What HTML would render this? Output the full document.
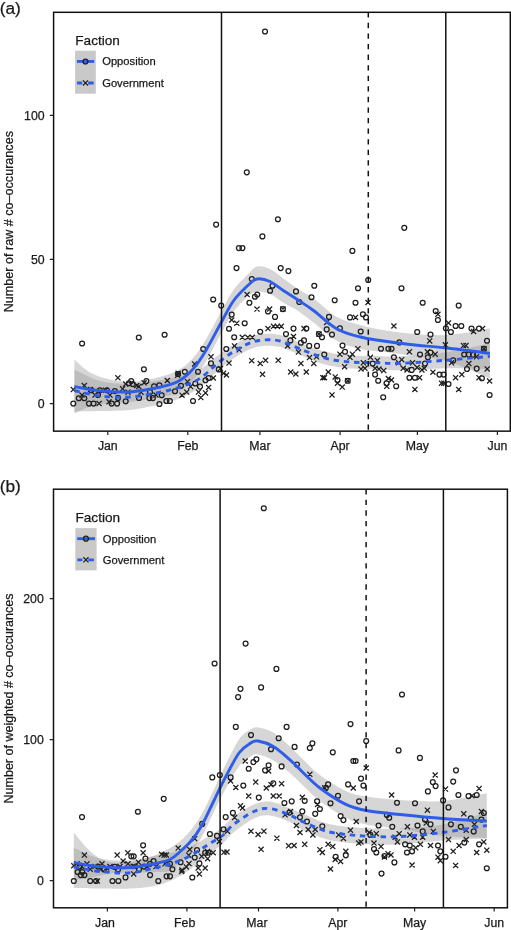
<!DOCTYPE html>
<html><head><meta charset="utf-8"><style>
html,body{margin:0;padding:0;background:#fff;width:511px;height:930px;overflow:hidden}
svg{display:block;will-change:transform}
text{font-family:"Liberation Sans", sans-serif;fill:#1a1a1a;stroke:#1a1a1a;stroke-width:0.25px}
</style></head><body>
<svg width="511" height="930" viewBox="0 0 511 930">
<rect width="511" height="930" fill="#fff"/>
<clipPath id="clipa"><rect x="53.6" y="12.3" width="456.7" height="418.85"/></clipPath>
<g clip-path="url(#clipa)">
<path d="M74.4,359.5 C77,361.67 84.07,369.17 90,372.5 C95.93,375.83 103.33,377.92 110,379.5 C116.67,381.08 122.75,382.17 130,382 C137.25,381.83 145.67,380.33 153.5,378.5 C161.33,376.67 170.48,374.33 177,371 C183.52,367.67 187.93,363.5 192.6,358.5 C197.27,353.5 200.23,348.83 205,341 C209.77,333.17 216.47,320 221.2,311.5 C225.93,303 229.02,296.12 233.4,290 C237.78,283.88 243.57,278.72 247.5,274.8 C251.43,270.88 253.25,267.47 257,266.5 C260.75,265.53 265.5,266.92 270,269 C274.5,271.08 279.33,275.67 284,279 C288.67,282.33 293.08,285.75 298,289 C302.92,292.25 307,293.83 313.5,298.5 C320,303.17 329.17,312.58 337,317 C344.83,321.42 353.33,322.92 360.5,325 C367.67,327.08 371.75,328.08 380,329.5 C388.25,330.92 398.93,332.58 410,333.5 C421.07,334.42 433.08,335.85 446.4,335 C459.72,334.15 482.65,329.5 489.9,328.4 L489.9,378.4 C482.65,375.5 459.72,364.82 446.4,361 C433.08,357.18 421.07,357.08 410,355.5 C398.93,353.92 388.25,352.58 380,351.5 C371.75,350.42 367.67,350.75 360.5,349 C353.33,347.25 344.83,345.42 337,341 C329.17,336.58 320,327.5 313.5,322.5 C307,317.5 302.92,314.25 298,311 C293.08,307.75 288.67,305.83 284,303 C279.33,300.17 274.5,295.92 270,294 C265.5,292.08 260.75,291.03 257,291.5 C253.25,291.97 251.43,293.38 247.5,296.8 C243.57,300.22 237.78,305.88 233.4,312 C229.02,318.12 225.93,325 221.2,333.5 C216.47,342 209.77,355.17 205,363 C200.23,370.83 197.27,375.5 192.6,380.5 C187.93,385.5 183.52,390 177,393 C170.48,396 161.33,397 153.5,398.5 C145.67,400 137.25,401.17 130,402 C122.75,402.83 116.67,402.75 110,403.5 C103.33,404.25 95.93,404.83 90,406.5 C84.07,408.17 77,412.33 74.4,413.5 Z" fill="#999" fill-opacity="0.4" stroke="none"/>
<path d="M74.4,369.5 C78.67,371.42 90.73,378.58 100,381 C109.27,383.42 119.78,384.17 130,384 C140.22,383.83 152.68,381.42 161.3,380 C169.92,378.58 175.18,377.33 181.7,375.5 C188.22,373.67 193.73,372.83 200.4,369 C207.07,365.17 215.02,357.17 221.7,352.5 C228.38,347.83 234.28,344 240.5,341 C246.72,338 252.42,335.5 259,334.5 C265.58,333.5 272.58,333.35 280,335 C287.42,336.65 295.67,341.55 303.5,344.4 C311.33,347.25 319.17,350.25 327,352.1 C334.83,353.95 342.67,354.83 350.5,355.5 C358.33,356.17 365.75,355.97 374,356.1 C382.25,356.23 387.93,356.95 400,356.3 C412.07,355.65 431.42,354.37 446.4,352.2 C461.38,350.03 482.65,344.78 489.9,343.3 L489.9,369.3 C482.65,369.12 461.38,368.03 446.4,368.2 C431.42,368.37 412.07,370.15 400,370.3 C387.93,370.45 382.25,369.4 374,369.1 C365.75,368.8 358.33,369.17 350.5,368.5 C342.67,367.83 334.83,367.12 327,365.1 C319.17,363.08 311.33,359.42 303.5,356.4 C295.67,353.38 287.42,348.65 280,347 C272.58,345.35 265.58,345.33 259,346.5 C252.42,347.67 246.72,350.5 240.5,354 C234.28,357.5 228.38,362 221.7,367.5 C215.02,373 207.07,382 200.4,387 C193.73,392 188.22,394.67 181.7,397.5 C175.18,400.33 169.92,401.92 161.3,404 C152.68,406.08 140.22,408.83 130,410 C119.78,411.17 109.27,410.75 100,411 C90.73,411.25 78.67,411.42 74.4,411.5 Z" fill="#999" fill-opacity="0.4" stroke="none"/>
<g fill="none" stroke="#1f1f1f" stroke-width="1.25"><circle cx="265" cy="31.5" r="2.45"/><circle cx="246.8" cy="172.3" r="2.45"/><circle cx="216.1" cy="224.6" r="2.45"/><circle cx="277.9" cy="219.2" r="2.45"/><circle cx="262.4" cy="236.4" r="2.45"/><circle cx="238.9" cy="248.1" r="2.45"/><circle cx="242.4" cy="248.1" r="2.45"/><circle cx="236.5" cy="268.1" r="2.45"/><circle cx="280.7" cy="268.1" r="2.45"/><circle cx="288.4" cy="271.1" r="2.45"/><circle cx="251.8" cy="279.1" r="2.45"/><circle cx="272.5" cy="285.7" r="2.45"/><circle cx="270.1" cy="290.8" r="2.45"/><circle cx="257.2" cy="294.6" r="2.45"/><circle cx="254.9" cy="296.7" r="2.45"/><circle cx="213.2" cy="299.5" r="2.45"/><circle cx="221.2" cy="305.6" r="2.45"/><circle cx="231.7" cy="314.6" r="2.45"/><circle cx="249.4" cy="302.8" r="2.45"/><circle cx="244.7" cy="323.2" r="2.45"/><circle cx="229" cy="328.7" r="2.45"/><circle cx="234.2" cy="337.3" r="2.45"/><circle cx="226.3" cy="349" r="2.45"/><circle cx="203.2" cy="349" r="2.45"/><circle cx="211" cy="363.4" r="2.45"/><circle cx="218.8" cy="369.4" r="2.45"/><circle cx="198" cy="371.7" r="2.45"/><circle cx="184.8" cy="371.7" r="2.45"/><circle cx="195.3" cy="383.5" r="2.45"/><circle cx="200" cy="386.6" r="2.45"/><circle cx="205.5" cy="380.3" r="2.45"/><circle cx="208.6" cy="378" r="2.45"/><circle cx="193" cy="401" r="2.45"/><circle cx="175" cy="391.3" r="2.45"/><circle cx="178.1" cy="374" r="2.45"/><circle cx="82.1" cy="343.5" r="2.45"/><circle cx="138.8" cy="337.5" r="2.45"/><circle cx="164.6" cy="334.7" r="2.45"/><circle cx="143.9" cy="369.3" r="2.45"/><circle cx="73.3" cy="403.6" r="2.45"/><circle cx="89" cy="403.6" r="2.45"/><circle cx="93.6" cy="403.6" r="2.45"/><circle cx="111.6" cy="403.6" r="2.45"/><circle cx="117.1" cy="403.6" r="2.45"/><circle cx="125.7" cy="401.3" r="2.45"/><circle cx="91.3" cy="390.3" r="2.45"/><circle cx="99.9" cy="390.3" r="2.45"/><circle cx="106.9" cy="390.3" r="2.45"/><circle cx="114.8" cy="391.1" r="2.45"/><circle cx="78.8" cy="398.2" r="2.45"/><circle cx="84.3" cy="398.2" r="2.45"/><circle cx="131.2" cy="381" r="2.45"/><circle cx="128.9" cy="383.3" r="2.45"/><circle cx="132.8" cy="384.1" r="2.45"/><circle cx="146.4" cy="381.1" r="2.45"/><circle cx="154.1" cy="386.4" r="2.45"/><circle cx="159.4" cy="385.2" r="2.45"/><circle cx="161.7" cy="395.2" r="2.45"/><circle cx="166.4" cy="401" r="2.45"/><circle cx="169.9" cy="401" r="2.45"/><circle cx="159.4" cy="404" r="2.45"/><circle cx="149.4" cy="398.1" r="2.45"/><circle cx="152.9" cy="398.1" r="2.45"/><circle cx="181" cy="385.8" r="2.45"/><circle cx="311.5" cy="297.3" r="2.45"/><circle cx="299.3" cy="302" r="2.45"/><circle cx="268" cy="311.4" r="2.45"/><circle cx="275" cy="316.9" r="2.45"/><circle cx="329" cy="316.9" r="2.45"/><circle cx="260.2" cy="331.8" r="2.45"/><circle cx="293.5" cy="328.6" r="2.45"/><circle cx="306.3" cy="328.6" r="2.45"/><circle cx="286" cy="334.1" r="2.45"/><circle cx="304" cy="340.4" r="2.45"/><circle cx="300.9" cy="342.7" r="2.45"/><circle cx="309.2" cy="345.9" r="2.45"/><circle cx="317" cy="345.9" r="2.45"/><circle cx="322" cy="337.3" r="2.45"/><circle cx="324.3" cy="354.5" r="2.45"/><circle cx="326.7" cy="329.4" r="2.45"/><circle cx="290.4" cy="340.4" r="2.45"/><circle cx="282.9" cy="309.1" r="2.45"/><circle cx="318.9" cy="334.1" r="2.45"/><circle cx="334.7" cy="300.2" r="2.45"/><circle cx="355.5" cy="302.8" r="2.45"/><circle cx="350" cy="317.4" r="2.45"/><circle cx="362.9" cy="314.3" r="2.45"/><circle cx="366" cy="317.4" r="2.45"/><circle cx="339.9" cy="328.3" r="2.45"/><circle cx="332" cy="334.6" r="2.45"/><circle cx="360.7" cy="331.5" r="2.45"/><circle cx="399.3" cy="342.4" r="2.45"/><circle cx="342.5" cy="345.6" r="2.45"/><circle cx="345" cy="351.8" r="2.45"/><circle cx="381" cy="348.7" r="2.45"/><circle cx="388.4" cy="348.7" r="2.45"/><circle cx="391.5" cy="348.7" r="2.45"/><circle cx="393.9" cy="357.3" r="2.45"/><circle cx="337.5" cy="380" r="2.45"/><circle cx="375.1" cy="374.6" r="2.45"/><circle cx="378.2" cy="380.8" r="2.45"/><circle cx="386.5" cy="383.2" r="2.45"/><circle cx="396.2" cy="386.3" r="2.45"/><circle cx="383.2" cy="397.3" r="2.45"/><circle cx="372.7" cy="363.6" r="2.45"/><circle cx="347.7" cy="380.8" r="2.45"/><circle cx="352.4" cy="250.9" r="2.45"/><circle cx="368.2" cy="280" r="2.45"/><circle cx="314.3" cy="285.8" r="2.45"/><circle cx="296" cy="291.4" r="2.45"/><circle cx="358" cy="288.3" r="2.45"/><circle cx="401.5" cy="288.3" r="2.45"/><circle cx="404.3" cy="227.8" r="2.45"/><circle cx="422.7" cy="302.8" r="2.45"/><circle cx="458.7" cy="305.6" r="2.45"/><circle cx="435.7" cy="311.1" r="2.45"/><circle cx="437.9" cy="320" r="2.45"/><circle cx="417.2" cy="332" r="2.45"/><circle cx="430.5" cy="334.6" r="2.45"/><circle cx="445.9" cy="328.3" r="2.45"/><circle cx="450.9" cy="332" r="2.45"/><circle cx="455.6" cy="326" r="2.45"/><circle cx="461.3" cy="326" r="2.45"/><circle cx="471.5" cy="328.6" r="2.45"/><circle cx="479" cy="328.6" r="2.45"/><circle cx="420" cy="354.5" r="2.45"/><circle cx="427.9" cy="357.3" r="2.45"/><circle cx="430.5" cy="352.6" r="2.45"/><circle cx="425" cy="363.6" r="2.45"/><circle cx="453.2" cy="360.4" r="2.45"/><circle cx="464.2" cy="354.5" r="2.45"/><circle cx="468.7" cy="354.6" r="2.45"/><circle cx="473.1" cy="354.8" r="2.45"/><circle cx="476.7" cy="368.6" r="2.45"/><circle cx="467" cy="369" r="2.45"/><circle cx="411.7" cy="369.9" r="2.45"/><circle cx="409.4" cy="377.7" r="2.45"/><circle cx="414.9" cy="377.7" r="2.45"/><circle cx="439.5" cy="374.6" r="2.45"/><circle cx="443.5" cy="374.6" r="2.45"/><circle cx="448.5" cy="384" r="2.45"/><circle cx="487" cy="340.7" r="2.45"/><circle cx="483.9" cy="348.7" r="2.45"/><circle cx="481.9" cy="378.3" r="2.45"/><circle cx="489.6" cy="395" r="2.45"/><circle cx="98" cy="395.05" r="2.45"/><circle cx="118" cy="397.93" r="2.45"/><circle cx="139" cy="397.93" r="2.45"/><circle cx="150" cy="392.16" r="2.45"/></g>
<path d="M244.55,292.05L249.65,297.15M244.55,297.15L249.65,292.05M229.15,317.45L234.25,322.55M229.15,322.55L234.25,317.45M234.25,320.65L239.35,325.75M234.25,325.75L239.35,320.65M239.75,334.75L244.85,339.85M239.75,339.85L244.85,334.75M245.25,334.75L250.35,339.85M245.25,339.85L250.35,334.75M231.95,343.35L237.05,348.45M231.95,348.45L237.05,343.35M236.65,347.25L241.75,352.35M236.65,352.35L241.75,347.25M208.45,354.25L213.55,359.35M208.45,359.35L213.55,354.25M226.45,360.55L231.55,365.65M226.45,365.65L231.55,360.55M249.15,358.15L254.25,363.25M249.15,363.25L254.25,358.15M192.05,361.35L197.15,366.45M192.05,366.45L197.15,361.35M217.85,366.05L222.95,371.15M217.85,371.15L222.95,366.05M220.95,370.75L226.05,375.85M220.95,375.85L226.05,370.75M175.55,370.75L180.65,375.85M175.55,375.85L180.65,370.75M210.75,375.45L215.85,380.55M210.75,380.55L215.85,375.45M206.05,384.85L211.15,389.95M206.05,389.95L211.15,384.85M195.95,389.55L201.05,394.65M195.95,394.65L201.05,389.55M202.95,390.35L208.05,395.45M202.95,395.45L208.05,390.35M198.25,395.05L203.35,400.15M198.25,400.15L203.35,395.05M188.05,384.05L193.15,389.15M188.05,389.15L193.15,384.05M179.45,392.65L184.55,397.75M179.45,397.75L184.55,392.65M184.15,389.55L189.25,394.65M184.15,394.65L189.25,389.55M223.95,372.45L229.05,377.55M223.95,377.55L229.05,372.45M70.75,387.05L75.85,392.15M70.75,392.15L75.85,387.05M81.75,383.05L86.85,388.15M81.75,388.15L86.85,383.05M96.55,401.05L101.65,406.15M96.55,406.15L101.65,401.05M115.35,375.25L120.45,380.35M115.35,380.35L120.45,375.25M123.15,381.55L128.25,386.65M123.15,386.65L128.25,381.55M120.05,386.25L125.15,391.35M120.05,391.35L125.15,386.25M134.15,383.05L139.25,388.15M134.15,388.15L139.25,383.05M87.95,387.05L93.05,392.15M87.95,392.15L93.05,387.05M102.85,387.75L107.95,392.85M102.85,392.85L107.95,387.75M141.55,380.25L146.65,385.35M141.55,385.35L146.65,380.25M164.75,377.95L169.85,383.05M164.75,383.05L169.85,377.95M175.05,372.65L180.15,377.75M175.05,377.75L180.15,372.65M136.25,383.85L141.35,388.95M136.25,388.95L141.35,383.85M184.95,379.15L190.05,384.25M184.95,384.25L190.05,379.15M254.45,306.55L259.55,311.65M254.45,311.65L259.55,306.55M267.05,306.55L272.15,311.65M267.05,311.65L272.15,306.55M280.35,306.55L285.45,311.65M280.35,311.65L285.45,306.55M265.45,326.05L270.55,331.15M265.45,331.15L270.55,326.05M270.95,323.75L276.05,328.85M270.95,328.85L276.05,323.75M274.85,323.75L279.95,328.85M274.85,328.85L279.95,323.75M278.75,323.75L283.85,328.85M278.75,328.85L283.85,323.75M301.45,326.05L306.55,331.15M301.45,331.15L306.55,326.05M249.75,334.75L254.85,339.85M249.75,339.85L254.85,334.75M290.95,333.95L296.05,339.05M290.95,339.05L296.05,333.95M285.05,343.35L290.15,348.45M285.05,348.45L290.15,343.35M295.95,349.55L301.05,354.65M295.95,354.65L301.05,349.55M306.95,355.05L312.05,360.15M306.95,360.15L312.05,355.05M313.95,354.25L319.05,359.35M313.95,359.35L319.05,354.25M316.35,331.55L321.45,336.65M316.35,336.65L321.45,331.55M324.15,319.85L329.25,324.95M324.15,324.95L329.25,319.85M257.65,360.85L262.75,365.95M257.65,365.95L262.75,360.85M263.05,357.75L268.15,362.85M263.05,362.85L268.15,357.75M275.65,357.75L280.75,362.85M275.65,362.85L280.75,357.75M259.95,371.75L265.05,376.85M259.95,376.85L265.05,371.75M298.35,360.85L303.45,365.95M298.35,365.95L303.45,360.85M311.25,360.85L316.35,365.95M311.25,365.95L316.35,360.85M288.15,369.45L293.25,374.55M288.15,374.55L293.25,369.45M293.25,371.45L298.35,376.55M293.25,376.55L298.35,371.45M303.75,369.45L308.85,374.55M303.75,374.55L308.85,369.45M320.25,375.15L325.35,380.25M320.25,380.25L325.35,375.15M321.95,375.15L327.05,380.25M321.95,380.25L327.05,375.15M325.75,369.45L330.85,374.55M325.75,374.55L330.85,369.45M365.45,299.95L370.55,305.05M365.45,305.05L370.55,299.95M352.95,314.85L358.05,319.95M352.95,319.95L358.05,314.85M391.35,323.45L396.45,328.55M391.35,328.55L396.45,323.45M355.35,346.15L360.45,351.25M355.35,351.25L360.45,346.15M337.35,351.65L342.45,356.75M337.35,356.75L342.45,351.65M349.85,351.65L354.95,356.75M349.85,356.75L354.95,351.65M347.45,354.75L352.55,359.85M347.45,359.85L352.55,354.75M367.85,354.75L372.95,359.85M367.85,359.85L372.95,354.75M374.85,357.85L379.95,362.95M374.85,362.95L379.95,357.85M360.75,360.25L365.85,365.35M360.75,365.35L365.85,360.25M342.05,364.15L347.15,369.25M342.05,369.25L347.15,364.15M396.05,360.25L401.15,365.35M396.05,365.35L401.15,360.25M399.15,357.15L404.25,362.25M399.15,362.25L404.25,357.15M332.65,374.35L337.75,379.45M332.65,379.45L337.75,374.35M334.95,380.65L340.05,385.75M334.95,385.75L340.05,380.65M339.65,384.55L344.75,389.65M339.65,389.65L344.75,384.55M329.45,392.35L334.55,397.45M329.45,397.45L334.55,392.35M345.15,378.25L350.25,383.35M345.15,383.35L350.25,378.25M358.45,366.55L363.55,371.65M358.45,371.65L363.55,366.55M362.35,365.75L367.45,370.85M362.35,370.85L367.45,365.75M372.55,365.75L377.65,370.85M372.55,370.85L377.65,365.75M376.45,366.55L381.55,371.65M376.45,371.65L381.55,366.55M381.15,368.05L386.25,373.15M381.15,373.15L386.25,368.05M385.85,375.95L390.95,381.05M385.85,381.05L390.95,375.95M388.95,377.45L394.05,382.55M388.95,382.55L394.05,377.45M384.25,383.75L389.35,388.85M384.25,388.85L389.35,383.75M400.65,365.75L405.75,370.85M400.65,370.85L405.75,365.75M435.35,311.75L440.45,316.85M435.35,316.85L440.45,311.75M445.95,320.35L451.05,325.45M445.95,325.45L451.05,320.35M471.05,328.95L476.15,334.05M471.05,334.05L476.15,328.95M427.15,338.35L432.25,343.45M427.15,343.45L432.25,338.35M442.85,342.25L447.95,347.35M442.85,347.35L447.95,342.25M460.95,343.05L466.05,348.15M460.95,348.15L466.05,343.05M463.45,343.05L468.55,348.15M463.45,348.15L468.55,343.05M406.85,349.25L411.95,354.35M406.85,354.35L411.95,349.25M424.85,349.25L429.95,354.35M424.85,354.35L429.95,349.25M432.65,351.65L437.75,356.75M432.65,356.75L437.75,351.65M409.95,360.25L415.05,365.35M409.95,365.35L415.05,360.25M449.05,360.25L454.15,365.35M449.05,365.35L454.15,360.25M466.35,361.05L471.45,366.15M466.35,366.15L471.45,361.05M414.65,364.95L419.75,370.05M414.65,370.05L419.75,364.95M421.75,365.75L426.85,370.85M421.75,370.85L426.85,365.75M404.45,367.35L409.55,372.45M404.45,372.45L409.55,367.35M419.35,367.35L424.45,372.45M419.35,372.45L424.45,367.35M430.35,369.65L435.45,374.75M430.35,374.75L435.45,369.65M417.05,375.15L422.15,380.25M417.05,380.25L422.15,375.15M412.35,386.85L417.45,391.95M412.35,391.95L417.45,386.85M438.95,380.65L444.05,385.75M438.95,385.75L444.05,380.65M441.25,380.65L446.35,385.75M441.25,385.75L446.35,380.65M453.05,375.15L458.15,380.25M453.05,380.25L458.15,375.15M459.25,372.05L464.35,377.15M459.25,377.15L464.35,372.05M456.15,386.85L461.25,391.95M456.15,391.95L461.25,386.85M476.45,375.15L481.55,380.25M476.45,380.25L481.55,375.15M479.95,326.05L485.05,331.15M479.95,331.15L485.05,326.05M481.35,346.15L486.45,351.25M481.35,351.25L486.45,346.15M473.95,354.25L479.05,359.35M473.95,359.35L479.05,354.25M484.65,366.35L489.75,371.45M484.65,371.45L489.75,366.35M487.05,378.45L492.15,383.55M487.05,383.55L492.15,378.45M79.45,392.5L84.55,397.6M79.45,397.6L84.55,392.5M92.45,392.5L97.55,397.6M92.45,397.6L97.55,392.5M107.45,392.5L112.55,397.6M107.45,397.6L112.55,392.5M125.45,389.61L130.55,394.71M125.45,394.71L130.55,389.61M138.45,389.61L143.55,394.71M138.45,394.71L143.55,389.61M153.45,392.5L158.55,397.6M153.45,397.6L158.55,392.5M106.45,399.25L111.55,404.35M106.45,404.35L111.55,399.25" fill="none" stroke="#1f1f1f" stroke-width="1.25"/>
<path d="M74.4,386.5 C77,387 84.07,388.67 90,389.5 C95.93,390.33 103.33,391.08 110,391.5 C116.67,391.92 122.75,392.5 130,392 C137.25,391.5 145.67,390.17 153.5,388.5 C161.33,386.83 170.48,385.17 177,382 C183.52,378.83 187.93,374.5 192.6,369.5 C197.27,364.5 200.23,359.83 205,352 C209.77,344.17 216.47,331 221.2,322.5 C225.93,314 229.02,307.12 233.4,301 C237.78,294.88 243.57,289.47 247.5,285.8 C251.43,282.13 253.25,279.72 257,279 C260.75,278.28 265.5,279.5 270,281.5 C274.5,283.5 279.33,287.92 284,291 C288.67,294.08 293.08,296.75 298,300 C302.92,303.25 307,305.67 313.5,310.5 C320,315.33 329.17,324.58 337,329 C344.83,333.42 353.33,335.08 360.5,337 C367.67,338.92 371.75,339.25 380,340.5 C388.25,341.75 398.93,343.25 410,344.5 C421.07,345.75 433.08,346.52 446.4,348 C459.72,349.48 482.65,352.5 489.9,353.4" fill="none" stroke="#2e5de9" stroke-width="2.9" stroke-linejoin="round"/>
<path d="M74.4,390.5 C78.67,391.42 90.73,394.92 100,396 C109.27,397.08 119.78,397.67 130,397 C140.22,396.33 152.68,393.75 161.3,392 C169.92,390.25 175.18,388.83 181.7,386.5 C188.22,384.17 193.73,382.42 200.4,378 C207.07,373.58 215.02,365.08 221.7,360 C228.38,354.92 234.28,350.75 240.5,347.5 C246.72,344.25 252.42,341.58 259,340.5 C265.58,339.42 272.58,339.35 280,341 C287.42,342.65 295.67,347.47 303.5,350.4 C311.33,353.33 319.17,356.67 327,358.6 C334.83,360.53 342.67,361.33 350.5,362 C358.33,362.67 365.75,362.38 374,362.6 C382.25,362.82 387.93,363.7 400,363.3 C412.07,362.9 431.42,361.37 446.4,360.2 C461.38,359.03 482.65,356.95 489.9,356.3" fill="none" stroke="#2e5de9" stroke-width="2.9" stroke-dasharray="5.5 4.8"/>
<line x1="221.5" y1="12.3" x2="221.5" y2="431.15" stroke="#111" stroke-width="1.5"/>
<line x1="368.3" y1="12.3" x2="368.3" y2="431.15" stroke="#111" stroke-width="1.5" stroke-dasharray="5.3 5.27"/>
<line x1="445.8" y1="12.3" x2="445.8" y2="431.15" stroke="#111" stroke-width="1.5"/>
</g>
<rect x="53.6" y="12.3" width="456.7" height="418.85" fill="none" stroke="#111" stroke-width="1.5"/>
<path d="M49.8,403.7L53.6,403.7M49.8,259.3L53.6,259.3M49.8,115.3L53.6,115.3M107.8,431.15L107.8,434.95M187.8,431.15L187.8,434.95M259.9,431.15L259.9,434.95M340.1,431.15L340.1,434.95M417.4,431.15L417.4,434.95M497.4,431.15L497.4,434.95" stroke="#222" stroke-width="1.2" fill="none"/>
<text x="44.6" y="408" text-anchor="end" font-size="12.3">0</text>
<text x="44.6" y="263.6" text-anchor="end" font-size="12.3">50</text>
<text x="44.6" y="119.6" text-anchor="end" font-size="12.3">100</text>
<text x="107.8" y="450.35" text-anchor="middle" font-size="12.3">Jan</text>
<text x="187.8" y="450.35" text-anchor="middle" font-size="12.3">Feb</text>
<text x="259.9" y="450.35" text-anchor="middle" font-size="12.3">Mar</text>
<text x="340.1" y="450.35" text-anchor="middle" font-size="12.3">Apr</text>
<text x="417.4" y="450.35" text-anchor="middle" font-size="12.3">May</text>
<text x="497.4" y="450.35" text-anchor="middle" font-size="12.3">Jun</text>
<text transform="translate(13,221.72) rotate(-90)" text-anchor="middle" font-size="12.6">Number of raw # co–occurances</text>
<text x="-0.3" y="14" font-size="17.3">(a)</text>
<text x="75.3" y="44.9" font-size="13.6">Faction</text>
<rect x="75.1" y="50.7" width="20.7" height="43" fill="#c9c9c9"/>
<line x1="77" y1="61.45" x2="94.2" y2="61.45" stroke="#2e5de9" stroke-width="2.9"/>
<line x1="77.1" y1="82.95" x2="94.2" y2="82.95" stroke="#2e5de9" stroke-width="2.9" stroke-dasharray="5.1 5.9 5.6 10"/>
<g fill="none" stroke="#1f1f1f" stroke-width="1.25"><circle cx="85.45" cy="61.45" r="2.45"/></g>
<path d="M82.9,80.4L88,85.5M82.9,85.5L88,80.4" fill="none" stroke="#1f1f1f" stroke-width="1.25"/>
<text x="102.2" y="65.45" font-size="11.2">Opposition</text>
<text x="102.2" y="86.95" font-size="11.2">Government</text>
<clipPath id="clipb"><rect x="53.5" y="489.2" width="453.9" height="418.6"/></clipPath>
<g clip-path="url(#clipb)">
<path d="M73.8,832.5 C76.5,835.58 84.47,846.17 90,851 C95.53,855.83 100.33,859.67 107,861.5 C113.67,863.33 122.33,862.92 130,862 C137.67,861.08 146.33,858.33 153,856 C159.67,853.67 165.47,850.5 170,848 C174.53,845.5 176.7,844 180.2,841 C183.7,838 187.4,834.5 191,830 C194.6,825.5 198.17,820.33 201.8,814 C205.43,807.67 209.1,799.67 212.8,792 C216.5,784.33 219.63,776.75 224,768 C228.37,759.25 234.55,745.92 239,739.5 C243.45,733.08 247.53,731.5 250.7,729.5 C253.87,727.5 254.23,727 258,727.5 C261.77,728 267.97,729.33 273.3,732.5 C278.63,735.67 284.97,741.92 290,746.5 C295.03,751.08 298.52,755.25 303.5,760 C308.48,764.75 312.85,769.83 319.9,775 C326.95,780.17 338.08,787.42 345.8,791 C353.52,794.58 357.17,795 366.2,796.5 C375.23,798 387.25,799.25 400,800 C412.75,800.75 428.23,802.12 442.7,801 C457.17,799.88 479.45,794.58 486.8,793.3 L486.8,838 C479.45,837.67 457.17,837.5 442.7,836 C428.23,834.5 412.75,830.92 400,829 C387.25,827.08 375.23,826.37 366.2,824.5 C357.17,822.63 353.52,821.72 345.8,817.8 C338.08,813.88 326.95,806.3 319.9,801 C312.85,795.7 308.48,790.65 303.5,786 C298.52,781.35 295.03,777.35 290,773.1 C284.97,768.85 278.63,763.6 273.3,760.5 C267.97,757.4 261.77,755.17 258,754.5 C254.23,753.83 253.87,754.5 250.7,756.5 C247.53,758.5 243.45,760.58 239,766.5 C234.55,772.42 228.37,784.08 224,792 C219.63,799.92 216.5,806.5 212.8,814 C209.1,821.5 205.43,830.67 201.8,837 C198.17,843.33 194.6,847.83 191,852 C187.4,856.17 183.7,858.83 180.2,862 C176.7,865.17 174.53,869.33 170,871 C165.47,872.67 159.67,871.67 153,872 C146.33,872.33 137.17,872.75 130,873 C122.83,873.25 116.67,872.67 110,873.5 C103.33,874.33 96.03,876.92 90,878 C83.97,879.08 76.5,879.67 73.8,880 Z" fill="#999" fill-opacity="0.4" stroke="none"/>
<path d="M73.8,848 C78.17,849.75 90.63,856.42 100,858.5 C109.37,860.58 121.2,860.87 130,860.5 C138.8,860.13 146.13,857.55 152.8,856.3 C159.47,855.05 164.13,854.38 170,853 C175.87,851.62 181.07,851.08 188,848 C194.93,844.92 205.72,838 211.6,834.5 C217.48,831 219.67,830 223.3,827 C226.93,824 228.12,820.33 233.4,816.5 C238.68,812.67 248.73,806.47 255,804 C261.27,801.53 265.17,801 271,801.7 C276.83,802.4 284.58,806.15 290,808.2 C295.42,810.25 297.33,811.47 303.5,814 C309.67,816.53 319.17,821.25 327,823.4 C334.83,825.55 342.67,826.05 350.5,826.9 C358.33,827.75 365.75,828.23 374,828.5 C382.25,828.77 388.55,829.17 400,828.5 C411.45,827.83 428.23,827.17 442.7,824.5 C457.17,821.83 479.45,814.5 486.8,812.5 L486.8,838.5 C479.45,838.83 457.17,839.5 442.7,840.5 C428.23,841.5 411.45,843.83 400,844.5 C388.55,845.17 382.25,844.77 374,844.5 C365.75,844.23 358.33,843.75 350.5,842.9 C342.67,842.05 334.83,841.55 327,839.4 C319.17,837.25 309.67,832.87 303.5,830 C297.33,827.13 295.42,824.58 290,822.2 C284.58,819.82 276.83,816.4 271,815.7 C265.17,815 261.27,815.2 255,818 C248.73,820.8 238.68,828.33 233.4,832.5 C228.12,836.67 226.93,839.67 223.3,843 C219.67,846.33 217.48,847.83 211.6,852.5 C205.72,857.17 194.93,866.25 188,871 C181.07,875.75 175.87,878.45 170,881 C164.13,883.55 159.47,885.05 152.8,886.3 C146.13,887.55 138.8,888.13 130,888.5 C121.2,888.87 109.37,888.58 100,888.5 C90.63,888.42 78.17,888.08 73.8,888 Z" fill="#999" fill-opacity="0.4" stroke="none"/>
<g fill="none" stroke="#1f1f1f" stroke-width="1.25"><circle cx="263.8" cy="508.2" r="2.45"/><circle cx="245.6" cy="643.6" r="2.45"/><circle cx="214.6" cy="663.5" r="2.45"/><circle cx="276.4" cy="668.9" r="2.45"/><circle cx="240.5" cy="688.8" r="2.45"/><circle cx="261.1" cy="687.4" r="2.45"/><circle cx="238.1" cy="697.1" r="2.45"/><circle cx="235.8" cy="726.9" r="2.45"/><circle cx="286.6" cy="726.9" r="2.45"/><circle cx="251" cy="735.1" r="2.45"/><circle cx="278.7" cy="738.2" r="2.45"/><circle cx="271" cy="749.2" r="2.45"/><circle cx="253.4" cy="762.1" r="2.45"/><circle cx="256.4" cy="759.3" r="2.45"/><circle cx="248.7" cy="768.7" r="2.45"/><circle cx="268.6" cy="765.2" r="2.45"/><circle cx="265.1" cy="770.3" r="2.45"/><circle cx="281.6" cy="766.4" r="2.45"/><circle cx="212.3" cy="777.4" r="2.45"/><circle cx="219.8" cy="775" r="2.45"/><circle cx="230.6" cy="777.4" r="2.45"/><circle cx="243.3" cy="785.6" r="2.45"/><circle cx="273.3" cy="783.3" r="2.45"/><circle cx="258.8" cy="797.6" r="2.45"/><circle cx="284.4" cy="803" r="2.45"/><circle cx="232.9" cy="812.9" r="2.45"/><circle cx="225.7" cy="817.1" r="2.45"/><circle cx="202.2" cy="823.9" r="2.45"/><circle cx="209.9" cy="834" r="2.45"/><circle cx="217" cy="835.9" r="2.45"/><circle cx="223.5" cy="829.3" r="2.45"/><circle cx="197" cy="850" r="2.45"/><circle cx="205.2" cy="852.8" r="2.45"/><circle cx="194.7" cy="857.5" r="2.45"/><circle cx="199.4" cy="863.4" r="2.45"/><circle cx="192.3" cy="877.5" r="2.45"/><circle cx="170" cy="876.3" r="2.45"/><circle cx="180.6" cy="862.2" r="2.45"/><circle cx="82" cy="817.1" r="2.45"/><circle cx="137.9" cy="811.7" r="2.45"/><circle cx="163.7" cy="798.8" r="2.45"/><circle cx="143.1" cy="845.3" r="2.45"/><circle cx="131.3" cy="856.3" r="2.45"/><circle cx="133.7" cy="856.3" r="2.45"/><circle cx="145.4" cy="858.6" r="2.45"/><circle cx="73.8" cy="881" r="2.45"/><circle cx="90.2" cy="881" r="2.45"/><circle cx="96.1" cy="881" r="2.45"/><circle cx="112.5" cy="881" r="2.45"/><circle cx="118.4" cy="881" r="2.45"/><circle cx="158.3" cy="881" r="2.45"/><circle cx="166.6" cy="876.3" r="2.45"/><circle cx="114.9" cy="866.9" r="2.45"/><circle cx="125.5" cy="877.4" r="2.45"/><circle cx="80.8" cy="875.1" r="2.45"/><circle cx="84.4" cy="875.1" r="2.45"/><circle cx="153.6" cy="861" r="2.45"/><circle cx="150.1" cy="875.1" r="2.45"/><circle cx="172.4" cy="869.2" r="2.45"/><circle cx="77.6" cy="872" r="2.45"/><circle cx="82.3" cy="872" r="2.45"/><circle cx="208.5" cy="852.7" r="2.45"/><circle cx="350.5" cy="724.1" r="2.45"/><circle cx="366.2" cy="741" r="2.45"/><circle cx="294.6" cy="746.9" r="2.45"/><circle cx="312.4" cy="743.3" r="2.45"/><circle cx="309.8" cy="748" r="2.45"/><circle cx="332.8" cy="752.3" r="2.45"/><circle cx="353.3" cy="761" r="2.45"/><circle cx="355.6" cy="761" r="2.45"/><circle cx="296.9" cy="764.5" r="2.45"/><circle cx="361" cy="778.6" r="2.45"/><circle cx="348.1" cy="784.4" r="2.45"/><circle cx="363.4" cy="785.6" r="2.45"/><circle cx="328.1" cy="784.4" r="2.45"/><circle cx="398.6" cy="750.4" r="2.45"/><circle cx="325.8" cy="787.9" r="2.45"/><circle cx="338" cy="795.7" r="2.45"/><circle cx="291.7" cy="801.3" r="2.45"/><circle cx="304.7" cy="800.8" r="2.45"/><circle cx="317.1" cy="801.3" r="2.45"/><circle cx="319.9" cy="809" r="2.45"/><circle cx="330.5" cy="803.2" r="2.45"/><circle cx="359.1" cy="801.3" r="2.45"/><circle cx="302.3" cy="811.4" r="2.45"/><circle cx="315.2" cy="813.8" r="2.45"/><circle cx="289.4" cy="812.6" r="2.45"/><circle cx="340.6" cy="816.1" r="2.45"/><circle cx="343.4" cy="820.1" r="2.45"/><circle cx="300" cy="817.3" r="2.45"/><circle cx="307" cy="821.5" r="2.45"/><circle cx="322.3" cy="826.2" r="2.45"/><circle cx="378.6" cy="825.5" r="2.45"/><circle cx="392.3" cy="826.7" r="2.45"/><circle cx="386.9" cy="814.9" r="2.45"/><circle cx="389.2" cy="817.7" r="2.45"/><circle cx="397" cy="802.7" r="2.45"/><circle cx="374" cy="849" r="2.45"/><circle cx="376.3" cy="852.5" r="2.45"/><circle cx="384.5" cy="856" r="2.45"/><circle cx="394.4" cy="862.4" r="2.45"/><circle cx="381.5" cy="873.6" r="2.45"/><circle cx="335.7" cy="856.7" r="2.45"/><circle cx="345.8" cy="855.3" r="2.45"/><circle cx="370.4" cy="834.9" r="2.45"/><circle cx="402" cy="694.5" r="2.45"/><circle cx="419.9" cy="757.9" r="2.45"/><circle cx="456" cy="770.3" r="2.45"/><circle cx="432.8" cy="782.1" r="2.45"/><circle cx="435.6" cy="786.1" r="2.45"/><circle cx="453.2" cy="781.6" r="2.45"/><circle cx="427.9" cy="791.4" r="2.45"/><circle cx="458.4" cy="795" r="2.45"/><circle cx="468.5" cy="796.1" r="2.45"/><circle cx="476.7" cy="795" r="2.45"/><circle cx="443.1" cy="800.4" r="2.45"/><circle cx="415" cy="803.2" r="2.45"/><circle cx="448.5" cy="807.4" r="2.45"/><circle cx="483.8" cy="813" r="2.45"/><circle cx="481.4" cy="819.6" r="2.45"/><circle cx="425" cy="819.6" r="2.45"/><circle cx="470.8" cy="818.4" r="2.45"/><circle cx="430.5" cy="824.3" r="2.45"/><circle cx="417.5" cy="825.5" r="2.45"/><circle cx="450.9" cy="824.3" r="2.45"/><circle cx="460.8" cy="826.7" r="2.45"/><circle cx="422.7" cy="831.4" r="2.45"/><circle cx="473.7" cy="831.4" r="2.45"/><circle cx="405.1" cy="844.3" r="2.45"/><circle cx="409.8" cy="845.5" r="2.45"/><circle cx="407" cy="852.5" r="2.45"/><circle cx="412.1" cy="851.3" r="2.45"/><circle cx="438" cy="845.5" r="2.45"/><circle cx="440.3" cy="851.3" r="2.45"/><circle cx="445.5" cy="856.7" r="2.45"/><circle cx="464.3" cy="842.6" r="2.45"/><circle cx="479.1" cy="844.3" r="2.45"/><circle cx="486.8" cy="868.2" r="2.45"/><circle cx="80" cy="866.59" r="2.45"/><circle cx="98" cy="866.59" r="2.45"/><circle cx="104" cy="869.41" r="2.45"/><circle cx="118" cy="869.41" r="2.45"/><circle cx="139" cy="869.41" r="2.45"/><circle cx="144" cy="866.59" r="2.45"/><circle cx="150" cy="863.77" r="2.45"/><circle cx="170" cy="863.77" r="2.45"/></g>
<path d="M242.65,758.45L247.75,763.55M242.65,763.55L247.75,758.45M266.05,768.45L271.15,773.55M266.05,773.55L271.15,768.45M253.15,779.55L258.25,784.65M253.15,784.65L258.25,779.55M279.05,781.15L284.15,786.25M279.05,786.25L284.15,781.15M228.05,778.35L233.15,783.45M228.05,783.45L233.15,778.35M233.25,784.95L238.35,790.05M233.25,790.05L238.35,784.95M263.75,785.45L268.85,790.55M263.75,790.55L268.85,785.45M268.45,782.15L273.55,787.25M268.45,787.25L273.55,782.15M246.15,793.45L251.25,798.55M246.15,798.55L251.25,793.45M270.75,793.45L275.85,798.55M270.75,798.55L275.85,793.45M276.65,793.45L281.75,798.55M276.65,798.55L281.75,793.45M237.95,803.25L243.05,808.35M237.95,808.35L243.05,803.25M239.95,805.45L245.05,810.55M239.95,810.55L245.05,805.45M282.55,812.25L287.65,817.35M282.55,817.35L287.65,812.25M232.05,815.05L237.15,820.15M232.05,820.15L237.15,815.05M248.45,828.65L253.55,833.75M248.45,833.75L253.55,828.65M255.55,831.95L260.65,837.05M255.55,837.05L260.65,831.95M261.35,828.65L266.45,833.75M261.35,833.75L266.45,828.65M274.35,835.65L279.45,840.75M274.35,840.75L279.45,835.65M286.05,843.25L291.15,848.35M286.05,848.35L291.15,843.25M258.55,846.75L263.65,851.85M258.55,851.85L263.65,846.75M224.95,828.65L230.05,833.75M224.95,833.75L230.05,828.65M216.75,838.95L221.85,844.05M216.75,844.05L221.85,838.95M221.45,849.75L226.55,854.85M221.45,854.85L226.55,849.75M224.45,849.45L229.55,854.55M224.45,854.55L229.55,849.45M192.15,836.15L197.25,841.25M192.15,841.25L197.25,836.15M175.65,845.55L180.75,850.65M175.65,850.65L180.75,845.55M205.05,849.05L210.15,854.15M205.05,854.15L210.15,849.05M186.25,852.65L191.35,857.75M186.25,857.75L191.35,852.65M205.05,856.15L210.15,861.25M205.05,861.25L210.15,856.15M199.15,853.75L204.25,858.85M199.15,858.85L204.25,853.75M183.85,864.35L188.95,869.45M183.85,869.45L188.95,864.35M179.15,869.05L184.25,874.15M179.15,874.15L184.25,869.05M202.65,865.45L207.75,870.55M202.65,870.55L207.75,865.45M195.65,865.45L200.75,870.55M195.65,870.55L200.75,865.45M196.85,871.45L201.95,876.55M196.85,876.55L201.95,871.45M71.25,863.15L76.35,868.25M71.25,868.25L76.35,863.15M81.85,852.55L86.95,857.65M81.85,857.65L86.95,852.55M114.65,852.55L119.75,857.65M114.65,857.65L119.75,852.55M125.25,850.25L130.35,855.35M125.25,855.35L130.35,850.25M120.55,858.45L125.65,863.55M120.55,863.55L125.65,858.45M135.85,859.65L140.95,864.75M135.85,864.75L140.95,859.65M140.55,850.25L145.65,855.35M140.55,855.35L145.65,850.25M161.65,852.55L166.75,857.65M161.65,857.65L166.75,852.55M94.75,878.45L99.85,883.55M94.75,883.55L99.85,878.45M87.65,866.65L92.75,871.75M87.65,871.75L92.75,866.65M104.15,865.45L109.25,870.55M104.15,870.55L109.25,865.45M131.15,871.35L136.25,876.45M131.15,876.45L136.25,871.35M130.65,863.75L135.75,868.85M130.65,868.85L135.75,863.75M98.55,866.45L103.65,871.55M98.55,871.55L103.65,866.45M159.05,851.75L164.15,856.85M159.05,856.85L164.15,851.75M163.75,852.45L168.85,857.55M163.75,857.55L168.85,852.45M187.25,847.05L192.35,852.15M187.25,852.15L192.35,847.05M179.45,867.35L184.55,872.45M179.45,872.45L184.55,867.35M186.45,861.05L191.55,866.15M186.45,866.15L191.55,861.05M210.65,850.15L215.75,855.25M210.65,855.25L215.75,850.15M307.25,771.75L312.35,776.85M307.25,776.85L312.35,771.75M363.65,765.45L368.75,770.55M363.65,770.55L368.75,765.45M350.75,785.45L355.85,790.55M350.75,790.55L355.85,785.45M322.05,785.35L327.15,790.45M322.05,790.45L327.15,785.35M299.75,794.75L304.85,799.85M299.75,799.85L304.85,794.75M315.05,801.85L320.15,806.95M315.05,806.95L320.15,801.85M389.05,792.45L394.15,797.55M389.05,797.55L394.15,792.45M288.05,808.85L293.15,813.95M288.05,813.95L293.15,808.85M353.75,818.95L358.85,824.05M353.75,824.05L358.85,818.95M293.85,822.95L298.95,828.05M293.85,828.05L298.95,822.95M297.45,829.95L302.55,835.05M297.45,835.05L302.55,829.95M305.65,826.95L310.75,832.05M305.65,832.05L310.75,826.95M310.35,832.35L315.45,837.45M310.35,837.45L315.45,832.35M312.65,826.95L317.75,832.05M312.65,832.05L317.75,826.95M336.15,832.35L341.25,837.45M336.15,837.45L341.25,832.35M340.85,835.85L345.95,840.95M340.85,840.95L345.95,835.85M347.95,827.65L353.05,832.75M347.95,832.75L353.05,827.65M358.45,839.35L363.55,844.45M358.45,844.45L363.55,839.35M366.65,829.95L371.75,835.05M366.65,835.05L371.75,829.95M373.75,831.15L378.85,836.25M373.75,836.25L378.85,831.15M371.45,840.55L376.55,845.65M371.45,845.65L376.55,840.55M378.45,844.05L383.55,849.15M378.45,849.15L383.55,844.05M385.45,851.15L390.55,856.25M385.45,856.25L390.55,851.15M381.95,854.45L387.05,859.55M381.95,859.55L387.05,854.45M392.55,834.65L397.65,839.75M392.55,839.75L397.65,834.65M394.85,839.35L399.95,844.45M394.85,844.45L399.95,839.35M291.55,842.95L296.65,848.05M291.55,848.05L296.65,842.95M302.15,841.75L307.25,846.85M302.15,846.85L307.25,841.75M317.35,847.15L322.45,852.25M317.35,852.25L322.45,847.15M319.75,849.95L324.85,855.05M319.75,855.05L324.85,849.95M325.55,841.75L330.65,846.85M325.55,846.85L330.65,841.75M330.25,844.05L335.35,849.15M330.25,849.15L335.35,844.05M343.25,848.75L348.35,853.85M343.25,853.85L348.35,848.75M332.65,856.95L337.75,862.05M332.65,862.05L337.75,856.95M338.05,858.85L343.15,863.95M338.05,863.95L343.15,858.85M327.95,866.45L333.05,871.55M327.95,871.55L333.05,866.45M356.15,840.55L361.25,845.65M356.15,845.65L361.25,840.55M432.65,772.45L437.75,777.55M432.65,777.55L437.75,772.45M442.95,786.55L448.05,791.65M442.95,791.65L448.05,786.55M476.55,786.05L481.65,791.15M476.55,791.15L481.65,786.05M469.45,793.15L474.55,798.25M469.45,798.25L474.55,793.15M424.85,807.65L429.95,812.75M424.85,812.75L429.95,807.65M461.25,811.25L466.35,816.35M461.25,816.35L466.35,811.25M478.85,808.85L483.95,813.95M478.85,813.95L483.95,808.85M423.65,820.55L428.75,825.65M423.65,825.65L428.75,820.55M471.85,821.75L476.95,826.85M471.85,826.85L476.95,821.75M404.85,824.15L409.95,829.25M404.85,829.25L409.95,824.15M430.75,828.85L435.85,833.95M430.75,833.95L435.85,828.85M463.65,827.65L468.75,832.75M463.65,832.75L468.75,827.65M396.65,831.15L401.75,836.25M396.65,836.25L401.75,831.15M407.25,832.35L412.35,837.45M407.25,837.45L412.35,832.35M411.95,834.65L417.05,839.75M411.95,839.75L417.05,834.65M420.15,834.65L425.25,839.75M420.15,839.75L425.25,834.65M417.85,841.75L422.95,846.85M417.85,846.85L422.95,841.75M413.15,845.25L418.25,850.35M413.15,850.35L418.25,845.25M427.95,842.95L433.05,848.05M427.95,848.05L433.05,842.95M445.95,837.05L451.05,842.15M445.95,842.15L451.05,837.05M456.55,842.95L461.65,848.05M456.55,848.05L461.65,842.95M463.65,837.05L468.75,842.15M463.65,842.15L468.75,837.05M450.65,848.75L455.75,853.85M450.65,853.85L455.75,848.75M481.25,839.35L486.35,844.45M481.25,844.45L486.35,839.35M474.15,849.95L479.25,855.05M474.15,855.05L479.25,849.95M484.25,847.65L489.35,852.75M484.25,852.75L489.35,847.65M435.45,854.65L440.55,859.75M435.45,859.75L440.55,854.65M437.75,858.15L442.85,863.25M437.75,863.25L442.85,858.15M453.05,862.85L458.15,867.95M453.05,867.95L458.15,862.85M409.55,862.45L414.65,867.55M409.55,867.55L414.65,862.45M388.45,852.35L393.55,857.45M388.45,857.45L393.55,852.35M74.45,861.22L79.55,866.32M74.45,866.32L79.55,861.22M79.45,864.04L84.55,869.14M79.45,869.14L84.55,864.04M84.45,861.22L89.55,866.32M84.45,866.32L89.55,861.22M92.45,864.04L97.55,869.14M92.45,869.14L97.55,864.04M99.45,861.22L104.55,866.32M99.45,866.32L104.55,861.22M107.45,864.04L112.55,869.14M107.45,869.14L112.55,864.04M117.45,864.04L122.55,869.14M117.45,869.14L122.55,864.04M125.45,861.22L130.55,866.32M125.45,866.32L130.55,861.22M132.45,864.04L137.55,869.14M132.45,869.14L137.55,864.04M144.45,864.04L149.55,869.14M144.45,869.14L149.55,864.04M153.45,864.04L158.55,869.14M153.45,869.14L158.55,864.04M162.45,861.22L167.55,866.32M162.45,866.32L167.55,861.22" fill="none" stroke="#1f1f1f" stroke-width="1.25"/>
<path d="M73.8,862.5 C76.5,863 83.97,864.67 90,865.5 C96.03,866.33 103.33,867.17 110,867.5 C116.67,867.83 122.83,868.08 130,867.5 C137.17,866.92 146.33,865.33 153,864 C159.67,862.67 165.47,861.58 170,859.5 C174.53,857.42 176.7,854.58 180.2,851.5 C183.7,848.42 187.4,845.33 191,841 C194.6,836.67 198.17,831.83 201.8,825.5 C205.43,819.17 209.1,810.58 212.8,803 C216.5,795.42 219.63,788.33 224,780 C228.37,771.67 234.55,759.17 239,753 C243.45,746.83 247.53,745 250.7,743 C253.87,741 254.23,740.42 258,741 C261.77,741.58 267.97,743.37 273.3,746.5 C278.63,749.63 284.97,755.38 290,759.8 C295.03,764.22 298.52,768.3 303.5,773 C308.48,777.7 312.85,782.77 319.9,788 C326.95,793.23 338.08,800.65 345.8,804.4 C353.52,808.15 357.17,808.82 366.2,810.5 C375.23,812.18 387.25,813.17 400,814.5 C412.75,815.83 428.23,817.42 442.7,818.5 C457.17,819.58 479.45,820.58 486.8,821" fill="none" stroke="#2e5de9" stroke-width="2.9" stroke-linejoin="round"/>
<path d="M73.8,867 C78.17,867.75 90.63,870.5 100,871.5 C109.37,872.5 121.2,873.53 130,873 C138.8,872.47 146.13,869.8 152.8,868.3 C159.47,866.8 164.13,865.88 170,864 C175.87,862.12 181.07,860.58 188,857 C194.93,853.42 205.72,846.17 211.6,842.5 C217.48,838.83 219.67,838 223.3,835 C226.93,832 228.12,828.5 233.4,824.5 C238.68,820.5 248.73,813.63 255,811 C261.27,808.37 265.17,808 271,808.7 C276.83,809.4 284.58,812.98 290,815.2 C295.42,817.42 297.33,819.3 303.5,822 C309.67,824.7 319.17,829.25 327,831.4 C334.83,833.55 342.67,834.05 350.5,834.9 C358.33,835.75 365.75,836.23 374,836.5 C382.25,836.77 388.55,837.17 400,836.5 C411.45,835.83 428.23,834.33 442.7,832.5 C457.17,830.67 479.45,826.67 486.8,825.5" fill="none" stroke="#2e5de9" stroke-width="2.9" stroke-dasharray="5.5 4.8"/>
<line x1="220.1" y1="489.2" x2="220.1" y2="907.8" stroke="#111" stroke-width="1.5"/>
<line x1="366.1" y1="489.2" x2="366.1" y2="907.8" stroke="#111" stroke-width="1.5" stroke-dasharray="5.3 5.27"/>
<line x1="443.4" y1="489.2" x2="443.4" y2="907.8" stroke="#111" stroke-width="1.5"/>
</g>
<rect x="53.5" y="489.2" width="453.9" height="418.6" fill="none" stroke="#111" stroke-width="1.5"/>
<path d="M49.7,880.7L53.5,880.7M49.7,739.6L53.5,739.6M49.7,598.55L53.5,598.55M107.4,907.8L107.4,911.6M186.9,907.8L186.9,911.6M258.5,907.8L258.5,911.6M337.9,907.8L337.9,911.6M414.6,907.8L414.6,911.6M494.2,907.8L494.2,911.6" stroke="#222" stroke-width="1.2" fill="none"/>
<text x="43.8" y="885" text-anchor="end" font-size="12.3">0</text>
<text x="43.8" y="743.9" text-anchor="end" font-size="12.3">100</text>
<text x="43.8" y="602.85" text-anchor="end" font-size="12.3">200</text>
<text x="105" y="926.8" text-anchor="middle" font-size="12.3">Jan</text>
<text x="184.7" y="926.8" text-anchor="middle" font-size="12.3">Feb</text>
<text x="256.9" y="926.8" text-anchor="middle" font-size="12.3">Mar</text>
<text x="337.9" y="926.8" text-anchor="middle" font-size="12.3">Apr</text>
<text x="414.6" y="926.8" text-anchor="middle" font-size="12.3">May</text>
<text x="494.2" y="926.8" text-anchor="middle" font-size="12.3">Jun</text>
<text transform="translate(12.6,698.5) rotate(-90)" text-anchor="middle" font-size="12.5">Number of weighted # co–occurances</text>
<text x="-0.3" y="491.6" font-size="17.3">(b)</text>
<text x="75.5" y="521.8" font-size="13.6">Faction</text>
<rect x="75.3" y="528.1" width="21.3" height="42.3" fill="#c9c9c9"/>
<line x1="77.2" y1="538.68" x2="95" y2="538.68" stroke="#2e5de9" stroke-width="2.9"/>
<line x1="77.3" y1="559.83" x2="95" y2="559.83" stroke="#2e5de9" stroke-width="2.9" stroke-dasharray="5.1 5.9 5.6 10"/>
<g fill="none" stroke="#1f1f1f" stroke-width="1.25"><circle cx="85.95" cy="538.68" r="2.45"/></g>
<path d="M83.4,557.28L88.5,562.38M83.4,562.38L88.5,557.28" fill="none" stroke="#1f1f1f" stroke-width="1.25"/>
<text x="102.8" y="542.68" font-size="11.2">Opposition</text>
<text x="102.8" y="563.83" font-size="11.2">Government</text>
</svg>
</body></html>
